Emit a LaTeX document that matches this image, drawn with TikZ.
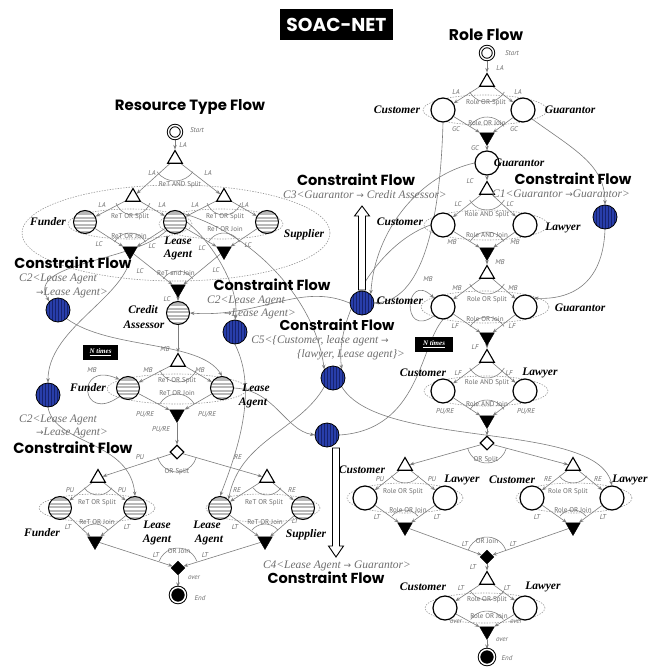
\documentclass[tikz,border=0pt]{standalone}
\usepackage{fontspec}
\setmainfont{Liberation Serif}
\newfontfamily\headfont{Poppins}
\newfontfamily\labfont{PT Sans}
\newfontfamily\arrfont{DejaVu Sans}
\usetikzlibrary{shapes.geometric,arrows.meta}
\definecolor{cblue}{RGB}{40,62,170}
\definecolor{cbluedark}{RGB}{22,34,110}
\definecolor{lg}{RGB}{125,125,125}
\definecolor{tg}{RGB}{110,110,110}
\newcommand\ar{{\arrfont\upshape\fontsize{9}{9}\selectfont →}}
\pgfdeclarelayer{bg}
\pgfsetlayers{bg,main}
\tikzset{
 res/.style={circle,draw=black,line width=1pt,minimum size=23pt,inner sep=0pt,fill=gray!55,
   path picture={\foreach \k in {-8.5,-5,-1.5,2,5.5}{\fill[white] ([xshift=-13pt,yshift=\k pt]path picture bounding box.center) rectangle ++(26pt,1.5pt);}}},
 rolec/.style={circle,draw=black,line width=1.2pt,minimum size=24pt,inner sep=0pt,fill=white},
 cons/.style={circle,draw=black,line width=0.8pt,minimum size=24pt,inner sep=0pt,fill=cblue,
   path picture={\foreach \k in {-9,-6,-3,0,3,6,9}{\draw[cbluedark,line width=0.7pt] ([xshift=\k pt,yshift=-13pt]path picture bounding box.center) -- ++(0pt,26pt);}}},
 otri/.style={regular polygon,regular polygon sides=3,draw=black,line width=1.1pt,fill=white,minimum size=17pt,inner sep=0pt},
 btri/.style={regular polygon,regular polygon sides=3,shape border rotate=180,draw=black,fill=black,minimum size=17pt,inner sep=0pt},
 odia/.style={diamond,draw=black,line width=1.1pt,fill=white,minimum size=14pt,inner sep=0pt},
 bdia/.style={diamond,draw=black,fill=black,minimum size=14pt,inner sep=0pt},
 startn/.style={circle,draw=black,line width=1pt,double=white,double distance=1.4pt,minimum size=13pt,inner sep=0pt,fill=white},
 endn/.style={circle,draw=black,line width=1pt,double=white,double distance=1.5pt,minimum size=15pt,inner sep=0pt,fill=black},
 fe/.style={draw=lg,line width=0.6pt,-{Stealth[length=4.5pt,width=3.5pt]}},
 ce/.style={draw=lg,line width=0.6pt,-{Stealth[length=4.5pt,width=3.5pt]}},
 cl/.style={draw=lg,line width=0.6pt},
 garc/.style={draw=lg,line width=0.55pt},
 gdot/.style={draw=black!40,line width=0.6pt,dash pattern=on 1.4pt off 1.3pt},
 lab/.style={font=\labfont\fontsize{7}{8}\selectfont,text=tg,inner sep=0.3pt},
 labi/.style={font=\labfont\itshape\fontsize{7}{8}\selectfont,text=tg,inner sep=0.3pt},
 rl/.style={font=\bfseries\itshape\fontsize{11.5}{12}\selectfont,inner sep=0.5pt},
 ct/.style={font=\itshape\fontsize{11.5}{12}\selectfont,text=tg,inner sep=0.5pt},
 hd/.style={font=\headfont\bfseries,inner sep=0pt},
 ntb/.style={fill=black,text=white,font=\bfseries\itshape\fontsize{7}{7}\selectfont,inner sep=0pt},
 hollow/.style={draw=black,line width=0.9pt,fill=white,line join=miter}
}
\newcommand\sarc[4]{\draw[garc] ([shift={(#3:#2pt)}]#1.center) arc[start angle=#3,end angle=#4,radius=#2pt];}
\begin{document}
\begin{tikzpicture}[x=1pt,y=-1pt]
\useasboundingbox (0,0) rectangle (657,672);
% ---------- title
\node[fill=black,minimum width=113pt,minimum height=31pt,inner sep=0pt] (title) at (336.5,24.5) {\resizebox{100pt}{!}{\headfont\bfseries\color{white}SOAC-NET}};
\node[hd] (rtitle) at (190,107) {\resizebox{150pt}{!}{Resource Type Flow}};
\node[hd] (ptitle) at (486,35) {\resizebox{74pt}{!}{Role Flow}};
% ---------- resource flow nodes
\node[startn] (rS) at (175,132) {};
\node[otri] (rT0) at (175,159) {};
\node[otri] (rT1) at (133,197) {};
\node[otri] (rT2) at (224,197) {};
\node[res] (rF1) at (85,222) {};
\node[res] (rL1) at (175,222) {};
\node[res] (rSu) at (267,222) {};
\node[btri] (rJ1) at (130,251) {};
\node[btri] (rJ2) at (224,251) {};
\node[btri] (rJ3) at (178,289) {};
\node[res] (rCA) at (178,313) {};
\node[otri] (rT3) at (178,362) {};
\node[res] (rF2) at (128,388) {};
\node[res] (rL2) at (222,388) {};
\node[btri] (rJ4) at (177,414) {};
\node[odia] (rD) at (177,452) {};
\node[otri] (rT4) at (98,478) {};
\node[otri] (rT5) at (267,478) {};
\node[res] (rF3) at (60,508) {};
\node[res] (rL3) at (135,508) {};
\node[res] (rL4) at (220,508) {};
\node[res] (rSu2) at (303,508) {};
\node[btri] (rJ5) at (95,541) {};
\node[btri] (rJ6) at (265,541) {};
\node[bdia] (rDJ) at (178,568) {};
\node[endn] (rE) at (178,595) {};
% ---------- role flow nodes
\node[startn] (pS) at (487,53) {};
\node[otri] (pT0) at (487,82) {};
\node[rolec] (pC1) at (443,110) {};
\node[rolec] (pG1) at (523,110) {};
\node[btri] (pJ0) at (487,137) {};
\node[rolec] (pG2) at (487,163) {};
\node[otri] (pT1) at (487,190) {};
\node[rolec] (pC2) at (443,225) {};
\node[rolec] (pW1) at (525,225) {};
\node[btri] (pJ1) at (487,252) {};
\node[otri] (pT2) at (487,274) {};
\node[rolec] (pC3) at (443,307) {};
\node[rolec] (pG3) at (525,307) {};
\node[btri] (pJ2) at (487,337) {};
\node[otri] (pT3) at (487,358) {};
\node[rolec] (pC4) at (443,391) {};
\node[rolec] (pW2) at (525,391) {};
\node[btri] (pJ3) at (487,420) {};
\node[odia] (pD) at (487,443) {};
\node[otri] (pT4) at (405,466) {};
\node[otri] (pT5) at (573,466) {};
\node[rolec] (pC5) at (365,498) {};
\node[rolec] (pW3) at (445,498) {};
\node[rolec] (pC6) at (532,498) {};
\node[rolec] (pW4) at (612,498) {};
\node[btri] (pJ4) at (405,527) {};
\node[btri] (pJ5) at (573,527) {};
\node[bdia] (pDJ) at (487,557) {};
\node[otri] (pT6) at (487,580) {};
\node[rolec] (pC7) at (445,608) {};
\node[rolec] (pW5) at (525,608) {};
\node[btri] (pJ6) at (487,631) {};
\node[endn] (pE) at (487,657) {};
% ---------- constraint nodes
\node[cons] (b1) at (58,310) {};
\node[cons] (b2) at (48,395) {};
\node[cons] (b3) at (235,332) {};
\node[cons] (b4) at (333,378) {};
\node[cons] (b5) at (327,435) {};
\node[cons] (b6) at (362,303) {};
\node[cons] (b7) at (605,217) {};
% hollow arrows
\draw[hollow] (358.5,290) -- (358.5,216) -- (354.5,216) -- (362,206) -- (369.5,216) -- (365.5,216) -- (365.5,290) -- cycle;
\draw[hollow] (332.5,448) -- (332.5,546) -- (328.5,546) -- (336,557) -- (343.5,546) -- (339.5,546) -- (339.5,448) -- cycle;
% ---------- N times
\node[ntb,minimum width=35pt,minimum height=15pt] (nt1) at (100.5,352.5) {\underline{N times}};
\node[ntb,minimum width=38pt,minimum height=15pt] (nt2) at (434,344.5) {\underline{N times}};
% ---------- headings
\node[hd] (h1) at (73,263) {\resizebox{117pt}{!}{Constraint Flow}};
\node[hd] (h2) at (272,285) {\resizebox{117pt}{!}{Constraint Flow}};
\node[hd] (h3) at (337,325) {\resizebox{115pt}{!}{Constraint Flow}};
\node[hd] (h4) at (356,180) {\resizebox{118pt}{!}{Constraint Flow}};
\node[hd] (h5) at (573,179) {\resizebox{117pt}{!}{Constraint Flow}};
\node[hd] (h6) at (73,448) {\resizebox{119pt}{!}{Constraint Flow}};
\node[hd] (h7) at (326,578) {\resizebox{117pt}{!}{Constraint Flow}};
% ---------- constraint texts
\node[ct] (ct1) at (58,279) {C2<Lease Agent};
\node[ct] (ct2) at (72,293) {\ar Lease Agent>};
\node[ct] (ct3) at (246,301) {C2<Lease Agent};
\node[ct] (ct4) at (260,314) {\ar Lease Agent>};
\node[ct] (ct5) at (320,341) {C5<\{Customer, lease agent \ar};
\node[ct] (ct6) at (351,355) {\{lawyer, Lease agent\}>};
\node[ct] (ct7) at (365,195) {C3<Guarantor \ar\ Credit Assessor>};
\node[ct] (ct8) at (561,194) {C1<Guarantor \ar Guarantor>};
\node[ct] (ct9) at (58,420) {C2<Lease Agent};
\node[ct] (ct10) at (72,433) {\ar Lease Agent>};
\node[ct] (ct11) at (337,566) {C4<Lease Agent \ar\ Guarantor>};
% ---------- resource labels
\node[rl] (t1) at (48,222) {Funder};
\node[rl] (t2) at (178,241) {Lease};
\node[rl] (t3) at (178,255) {Agent};
\node[rl] (t4) at (304,235) {Supplier};
\node[rl] (t5) at (143,310) {Credit};
\node[rl] (t6) at (144,325) {Assessor};
\node[rl] (t7) at (88,388) {Funder};
\node[rl] (t8) at (256,388) {Lease};
\node[rl] (t9) at (253,403) {Agent};
\node[rl] (t10) at (42,533) {Funder};
\node[rl] (t11) at (157,525) {Lease};
\node[rl] (t12) at (157,540) {Agent};
\node[rl] (t13) at (207,525) {Lease};
\node[rl] (t14) at (209,540) {Agent};
\node[rl] (t15) at (306,535) {Supplier};
% ---------- role labels
\node[rl] (u1) at (397,110) {Customer};
\node[rl] (u2) at (570,110) {Guarantor};
\node[rl] (u3) at (519,163) {Guarantor};
\node[rl] (u4) at (400,222) {Customer};
\node[rl] (u5) at (563,228) {Lawyer};
\node[rl] (u6) at (400,301) {Customer};
\node[rl] (u7) at (580,308) {Guarantor};
\node[rl] (u8) at (423,373) {Customer};
\node[rl] (u9) at (540,373) {Lawyer};
\node[rl] (u10) at (362,470) {Customer};
\node[rl] (u11) at (462,480) {Lawyer};
\node[rl] (u12) at (512,480) {Customer};
\node[rl] (u13) at (630,480) {Lawyer};
\node[rl] (u14) at (423,587) {Customer};
\node[rl] (u15) at (543,587) {Lawyer};
% ---------- small labels resource
\node[labi] (a1) at (197,130) {Start};
\node[labi] (a2) at (183,145) {LA};
\node[labi] (a3) at (152,173) {LA};
\node[labi] (a4) at (208,173) {LA};
\node[lab] (a5) at (180,185) {ReT AND Split};
\node[labi] (a6) at (102,205) {LA};
\node[labi] (a7) at (162,205) {LA};
\node[labi] (a8) at (195,205) {LA};
\node[labi] (a9) at (245,205) {LA};
\node[lab] (a10) at (130,217) {ReT OR Split};
\node[lab] (a11) at (225,217) {ReT OR Split};
\node[lab] (a12) at (129,236) {ReT OR Join};
\node[lab] (a13) at (225,229) {ReT OR Join};
\node[labi] (a14) at (99,244) {LC};
\node[labi] (a15) at (152,246) {LC};
\node[labi] (a16) at (202,248) {LC};
\node[labi] (a17) at (248,245) {LC};
\node[labi] (a18) at (140,271) {LC};
\node[lab] (a19) at (176,273) {ReT and Join};
\node[labi] (a20) at (216,270) {LC};
\node[labi] (a21) at (167,299) {LC};
\node[labi] (a22) at (165,349) {MB};
\node[labi] (a23) at (92,370) {MB};
\node[labi] (a24) at (148,370) {MB};
\node[labi] (a25) at (200,370) {MB};
\node[lab] (a26) at (177,381) {ReT OR Split};
\node[lab] (a27) at (177,393) {ReT OR Join};
\node[labi] (a28) at (145,415) {PU/RE};
\node[labi] (a29) at (207,415) {PU/RE};
\node[labi] (a30) at (161,430) {PU/RE};
\node[labi] (a31) at (140,457) {PU};
\node[labi] (a32) at (238,457) {RE};
\node[lab] (a33) at (177,472) {OR Split};
\node[labi] (a34) at (70,490) {PU};
\node[labi] (a35) at (122,490) {PU};
\node[labi] (a36) at (237,490) {RE};
\node[labi] (a37) at (292,490) {RE};
\node[lab] (a38) at (97,503) {ReT OR Split};
\node[lab] (a39) at (264,503) {ReT OR Split};
\node[lab] (a40) at (97,522) {ReT OR Join};
\node[lab] (a41) at (265,522) {ReT OR Join};
\node[labi] (a42) at (68,527) {LT};
\node[labi] (a43) at (127,527) {LT};
\node[labi] (a44) at (235,527) {LT};
\node[labi] (a45) at (295,521) {LT};
\node[labi] (a46) at (156,555) {LT};
\node[lab] (a47) at (179,551) {OR Join};
\node[labi] (a48) at (205,555) {LT};
\node[labi] (a49) at (194,578) {over};
\node[labi] (a50) at (200,598) {End};
% ---------- small labels role
\node[labi] (e1) at (512,53) {Start};
\node[labi] (e2) at (500,68) {LA};
\node[labi] (e3) at (456,92) {LA};
\node[labi] (e4) at (518,92) {LA};
\node[lab] (e5) at (486,103) {Role OR Split};
\node[lab] (e6) at (487,123) {Role OR Join};
\node[labi] (e7) at (456,129) {GC};
\node[labi] (e8) at (514,129) {GC};
\node[labi] (e9) at (475,148) {GC};
\node[labi] (e10) at (470,181) {LC};
\node[labi] (e11) at (458,204) {LC};
\node[labi] (e12) at (510,204) {LC};
\node[lab] (e13) at (487,215) {Role AND Split};
\node[lab] (e14) at (487,235) {Role AND Join};
\node[labi] (e15) at (452,242) {MB};
\node[labi] (e16) at (515,242) {MB};
\node[labi] (e17) at (500,262) {MB};
\node[labi] (e18) at (428,279) {MB};
\node[labi] (e19) at (457,288) {MB};
\node[labi] (e20) at (513,288) {MB};
\node[lab] (e21) at (487,300) {Role OR Split};
\node[lab] (e22) at (485,319) {Role OR Join};
\node[labi] (e23) at (455,326) {LF};
\node[labi] (e24) at (512,326) {LF};
\node[labi] (e25) at (475,347) {LF};
\node[labi] (e26) at (458,373) {LF};
\node[labi] (e27) at (509,373) {LF};
\node[lab] (e28) at (487,383) {Role AND Split};
\node[lab] (e29) at (487,404) {Role AND Join};
\node[labi] (e30) at (445,412) {PU/RE};
\node[labi] (e31) at (526,412) {PU/RE};
\node[lab] (e32) at (486,460) {OR Split};
\node[labi] (e33) at (380,479) {PU};
\node[labi] (e34) at (432,479) {PU};
\node[labi] (e35) at (548,479) {RE};
\node[labi] (e36) at (598,479) {RE};
\node[lab] (e37) at (403,492) {Role OR Split};
\node[lab] (e38) at (568,492) {Role OR Split};
\node[lab] (e39) at (408,510) {Role OR Join};
\node[lab] (e40) at (573,510) {Role OR Join};
\node[labi] (e41) at (377,517) {LT};
\node[labi] (e42) at (437,517) {LT};
\node[labi] (e43) at (537,517) {LT};
\node[labi] (e44) at (603,517) {LT};
\node[labi] (e45) at (465,544) {LT};
\node[lab] (e46) at (487,541) {OR Join};
\node[labi] (e47) at (513,544) {LT};
\node[labi] (e48) at (473,567) {LT};
\node[labi] (e49) at (461,588) {LT};
\node[labi] (e50) at (507,588) {LT};
\node[lab] (e51) at (487,600) {Role OR Split};
\node[lab] (e52) at (489,616) {Role OR Join};
\node[labi] (e53) at (456,622) {over};
\node[labi] (e54) at (516,622) {over};
\node[labi] (e55) at (502,640) {over};
\node[labi] (e56) at (507,658) {End};
% ================= background lines
\begin{pgfonlayer}{bg}
\fill[white] (0,0) rectangle (657,672);
% ellipses
\draw[gdot] (176,233) ellipse [x radius=154pt, y radius=48pt];
\draw[gdot] (130,224) ellipse [x radius=62pt, y radius=15pt];
\draw[gdot] (221,224) ellipse [x radius=62pt, y radius=15pt];
\draw[gdot] (177,389) ellipse [x radius=70pt, y radius=15pt];
\draw[gdot] (97,508) ellipse [x radius=58pt, y radius=14pt];
\draw[gdot] (263,508) ellipse [x radius=57pt, y radius=14pt];
\draw[gdot] (485,110) ellipse [x radius=62pt, y radius=15pt];
\draw[gdot] (486,225) ellipse [x radius=62pt, y radius=15pt];
\draw[gdot] (485,307) ellipse [x radius=64pt, y radius=16pt];
\draw[gdot] (486,391) ellipse [x radius=62pt, y radius=15pt];
\draw[gdot] (405,498) ellipse [x radius=58pt, y radius=15pt];
\draw[gdot] (574,498) ellipse [x radius=58pt, y radius=15pt];
\draw[gdot] (485,608) ellipse [x radius=60pt, y radius=15pt];
% split / join arcs
\sarc{rT0}{22}{215}{325}
\sarc{rT1}{18}{200}{340}
\sarc{rT2}{18}{200}{340}
\sarc{rJ1}{18}{30}{150}
\sarc{rJ2}{18}{30}{150}
\sarc{rJ3}{18}{35}{145}
\sarc{rT3}{20}{205}{335}
\sarc{rJ4}{20}{30}{150}
\sarc{rD}{20}{195}{345}
\sarc{rT4}{17}{215}{325}
\sarc{rT5}{17}{215}{325}
\sarc{rJ5}{17}{40}{140}
\sarc{rJ6}{17}{40}{140}
\sarc{rDJ}{20}{20}{160}
\sarc{pT0}{20}{210}{330}
\sarc{pJ0}{20}{32}{148}
\sarc{pT1}{20}{210}{330}
\sarc{pJ1}{20}{32}{148}
\sarc{pT2}{20}{210}{330}
\sarc{pJ2}{20}{32}{148}
\sarc{pT3}{20}{210}{330}
\sarc{pJ3}{20}{32}{148}
\sarc{pD}{20}{195}{345}
\sarc{pT4}{17}{215}{325}
\sarc{pT5}{17}{215}{325}
\sarc{pJ4}{17}{40}{140}
\sarc{pJ5}{17}{40}{140}
\sarc{pDJ}{20}{20}{160}
\sarc{pT6}{20}{212}{328}
\sarc{pJ6}{20}{35}{145}
% resource flow edges
\draw[fe] (rS) -- (rT0);
\draw[fe] (rT0) -- (rT1);
\draw[fe] (rT0) -- (rT2);
\draw[fe] (rT1) -- (rF1);
\draw[fe] (rT1) -- (rL1);
\draw[fe] (rT2) -- (rL1);
\draw[fe] (rT2) -- (rSu);
\draw[fe] (rF1) -- (rJ1);
\draw[fe] (rL1) -- (rJ1);
\draw[fe] (rL1) -- (rJ2);
\draw[fe] (rSu) -- (rJ2);
\draw[fe] (rJ1) -- (rJ3);
\draw[fe] (rJ2) -- (rJ3);
\draw[fe] (rJ3) -- (rCA);
\draw[fe] (rCA) -- (rT3);
\draw[fe] (rT3) -- (rF2);
\draw[fe] (rT3) -- (rL2);
\draw[fe] (rF2) -- (rJ4);
\draw[fe] (rL2) -- (rJ4);
\draw[fe] (rJ4) -- (rD);
\draw[fe] (rD) -- (rT4);
\draw[fe] (rD) -- (rT5);
\draw[fe] (rT4) -- (rF3);
\draw[fe] (rT4) -- (rL3);
\draw[fe] (rT5) -- (rL4);
\draw[fe] (rT5) -- (rSu2);
\draw[fe] (rF3) -- (rJ5);
\draw[fe] (rL3) -- (rJ5);
\draw[fe] (rL4) -- (rJ6);
\draw[fe] (rSu2) -- (rJ6);
\draw[fe] (rJ5) -- (rDJ);
\draw[fe] (rJ6) -- (rDJ);
\draw[fe] (rDJ) -- (rE);
% role flow edges
\draw[fe] (pS) -- (pT0);
\draw[fe] (pT0) -- (pC1);
\draw[fe] (pT0) -- (pG1);
\draw[fe] (pC1) -- (pJ0);
\draw[fe] (pG1) -- (pJ0);
\draw[fe] (pJ0) -- (pG2);
\draw[fe] (pG2) -- (pT1);
\draw[fe] (pT1) -- (pC2);
\draw[fe] (pT1) -- (pW1);
\draw[fe] (pC2) -- (pJ1);
\draw[fe] (pW1) -- (pJ1);
\draw[fe] (pJ1) -- (pT2);
\draw[fe] (pT2) -- (pC3);
\draw[fe] (pT2) -- (pG3);
\draw[fe] (pC3) -- (pJ2);
\draw[fe] (pG3) -- (pJ2);
\draw[fe] (pJ2) -- (pT3);
\draw[fe] (pT3) -- (pC4);
\draw[fe] (pT3) -- (pW2);
\draw[fe] (pC4) -- (pJ3);
\draw[fe] (pW2) -- (pJ3);
\draw[fe] (pJ3) -- (pD);
\draw[fe] (pD) -- (pT4);
\draw[fe] (pD) -- (pT5);
\draw[fe] (pT4) -- (pC5);
\draw[fe] (pT4) -- (pW3);
\draw[fe] (pT5) -- (pC6);
\draw[fe] (pT5) -- (pW4);
\draw[fe] (pC5) -- (pJ4);
\draw[fe] (pW3) -- (pJ4);
\draw[fe] (pC6) -- (pJ5);
\draw[fe] (pW4) -- (pJ5);
\draw[fe] (pJ4) -- (pDJ);
\draw[fe] (pJ5) -- (pDJ);
\draw[fe] (pDJ) -- (pT6);
\draw[fe] (pT6) -- (pC7);
\draw[fe] (pT6) -- (pW5);
\draw[fe] (pC7) -- (pJ6);
\draw[fe] (pW5) -- (pJ6);
\draw[fe] (pJ6) -- (pE);
% constraint curves
\draw[ce] (rL1.south west) .. controls (135,262) and (25,262) .. (b1.north west);
\draw[ce] (b1.south east) .. controls (110,350) and (200,340) .. (rL2.north);
\draw[ce] (rJ1.south) .. controls (120,300) and (48,330) .. (b2.north);
\draw[ce] (b2.south) .. controls (55,445) and (130,440) .. (rL3.north);
\draw[ce] (rL1.east) .. controls (215,245) and (240,290) .. (b3.north);
\draw[ce] (b3.south) .. controls (258,390) and (238,450) .. (rL4.north);
\draw[ce] (rL1.north east) .. controls (255,235) and (315,300) .. (b4.north west);
\draw[ce] (pC2.west) .. controls (375,245) and (335,320) .. (b4.north east);
\draw[ce] (b4.south west) .. controls (300,430) and (240,440) .. (rL4.north east);
\draw[ce] (b4.south east) .. controls (380,450) and (595,420) .. (pW4.north);
\draw[ce] (pC1.south) .. controls (440,230) and (420,300) .. (b6.east);
\draw[ce] (pG2.west) .. controls (420,175) and (375,230) .. (b6.north east);
\draw[ce] (b6.west) .. controls (300,282) and (260,318) .. (rCA.east);
\draw[ce] (pG1.south east) .. controls (575,150) and (605,165) .. (b7.north);
\draw[ce] (b7.south) .. controls (603,285) and (570,300) .. (pG3.north east);
\draw[ce] (rF2.south west) .. controls (80,425) and (75,360) .. (rF2.north west);
\draw[ce] (pC3.south west) .. controls (400,340) and (405,270) .. (pC3.north west);
\draw[ce] (rL2.east) .. controls (275,390) and (285,430) .. (b5.west);
\draw[cl] (b5.east) .. controls (420,430) and (420,345) .. (pC3.south);
\end{pgfonlayer}
\end{tikzpicture}
\end{document}
